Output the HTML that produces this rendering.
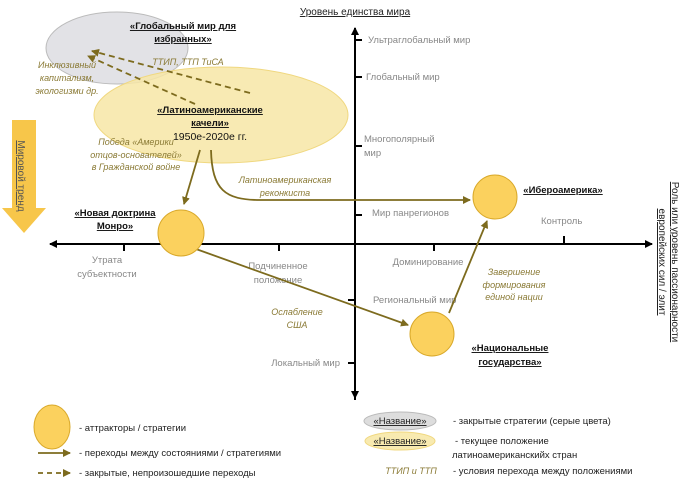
<!DOCTYPE html><html><head><meta charset="utf-8"><style>body{margin:0;background:#fff}svg{display:block;font-family:"Liberation Sans","DejaVu Sans",sans-serif}</style></head><body>
<svg width="686" height="486" viewBox="0 0 686 486" xmlns="http://www.w3.org/2000/svg">
<defs>
<marker id="ab" markerWidth="8" markerHeight="8" refX="7" refY="4" orient="auto" markerUnits="userSpaceOnUse"><path d="M0,0 L8,4 L0,8z" fill="#000"/></marker>
<marker id="ao" markerWidth="8" markerHeight="8" refX="7" refY="4" orient="auto" markerUnits="userSpaceOnUse"><path d="M0,0 L8,4 L0,8z" fill="#7d6b1e"/></marker>
</defs>
<ellipse cx="117" cy="48" rx="71" ry="36" fill="#e2e2e6" stroke="#bbb"/>
<ellipse cx="221" cy="115" rx="127" ry="48" fill="#f7e6a6" fill-opacity="0.85" stroke="#f0d880"/>
<polygon points="12,120 36,120 36,208 46,208 24,233 2,208 12,208" fill="#f7c64a"/>
<text transform="translate(18,176) rotate(90)" font-size="10" fill="#555" text-anchor="middle" text-decoration="underline">Мировой тренд</text>
<!-- axes -->
<line x1="355" y1="400" x2="355" y2="28" stroke="#000" stroke-width="2" marker-end="url(#ab)"/>
<line x1="355" y1="244" x2="355" y2="398" stroke="#000" stroke-width="2" marker-end="url(#ab)"/>
<line x1="355" y1="244" x2="50" y2="244" stroke="#000" stroke-width="2" marker-end="url(#ab)"/>
<line x1="355" y1="244" x2="652" y2="244" stroke="#000" stroke-width="2" marker-end="url(#ab)"/>
<g stroke="#000" stroke-width="2">
<line x1="124" y1="244" x2="124" y2="251"/><line x1="279" y1="244" x2="279" y2="251"/><line x1="434" y1="244" x2="434" y2="251"/><line x1="564" y1="244" x2="564" y2="236"/>
<line x1="355" y1="40" x2="362" y2="40"/><line x1="355" y1="77" x2="362" y2="77"/><line x1="355" y1="146" x2="362" y2="146"/><line x1="355" y1="215" x2="362" y2="215"/>
<line x1="355" y1="300" x2="348" y2="300"/><line x1="355" y1="363" x2="348" y2="363"/>
</g>
<g font-size="9.5" fill="#888">
<text x="368" y="43">Ультраглобальный мир</text>
<text x="366" y="80">Глобальный мир</text>
<text x="364" y="142">Многополярный</text><text x="364" y="156">мир</text>
<text x="372" y="216">Мир панрегионов</text>
<text x="541" y="224">Контроль</text>
<text x="107" y="263" text-anchor="middle">Утрата</text><text x="107" y="277" text-anchor="middle">субъектности</text>
<text x="278" y="269" text-anchor="middle">Подчиненное</text><text x="278" y="283" text-anchor="middle">положение</text>
<text x="428" y="265" text-anchor="middle">Доминирование</text>
<text x="373" y="303">Региональный мир</text>
<text x="340" y="366" text-anchor="end">Локальный  мир</text>
</g>
<text x="355" y="15" font-size="10" fill="#222" text-anchor="middle" text-decoration="underline">Уровень единства мира</text>
<text transform="translate(672,262) rotate(90)" font-size="10" fill="#222" text-anchor="middle" text-decoration="underline">Роль или уровень пассионарности</text>
<text transform="translate(659,262) rotate(90)" font-size="10" fill="#222" text-anchor="middle" text-decoration="underline">европейских сил / элит</text>
<!-- arrows -->
<g stroke="#7d6b1e" stroke-width="1.8" fill="none">
<line x1="250" y1="93" x2="92" y2="51" stroke-dasharray="6,4" marker-end="url(#ao)"/>
<line x1="195" y1="104" x2="88" y2="56" stroke-dasharray="6,4" marker-end="url(#ao)"/>
<line x1="200" y1="150" x2="184" y2="204" marker-end="url(#ao)"/>
<path d="M211,150 C212,190 225,200 260,200 L470,200" marker-end="url(#ao)"/>
<line x1="196" y1="249" x2="408" y2="325" marker-end="url(#ao)"/>
<line x1="449" y1="313" x2="487" y2="221" marker-end="url(#ao)"/>
</g>
<g fill="#fbd15e" stroke="#d9a92a">
<circle cx="181" cy="233" r="23"/><circle cx="495" cy="197" r="22"/><circle cx="432" cy="334" r="22"/>
</g>
<g font-size="9.5" font-weight="bold" fill="#111" text-anchor="middle" text-decoration="underline">
<text x="183" y="29">«Глобальный мир для</text><text x="183" y="42">избранных»</text>
<text x="210" y="113">«Латиноамериканские</text><text x="210" y="126">качели»</text>
<text x="115" y="216">«Новая доктрина</text><text x="115" y="229">Монро»</text>
<text x="563" y="193">«Ибероамерика»</text>
<text x="510" y="351">«Национальные</text><text x="510" y="365">государства»</text>
</g>
<text x="210" y="140" font-size="10.5" fill="#111" text-anchor="middle">1950е-2020е гг.</text>
<g font-size="9" font-style="italic" fill="#8a7a35" text-anchor="middle">
<text x="67" y="68">Инклюзивный</text><text x="67" y="81">капитализм,</text><text x="67" y="94">экологизми др.</text>
<text x="188" y="65">ТТИП, ТТП ТиСА</text>
<text x="136" y="145">Победа «Америки</text><text x="136" y="158">отцов-основателей»</text><text x="136" y="170">в Гражданской войне</text>
<text x="285" y="183">Латиноамериканская</text><text x="285" y="196">реконкиста</text>
<text x="297" y="315">Ослабление</text><text x="297" y="328">США</text>
<text x="514" y="275">Завершение</text><text x="514" y="288">формирования</text><text x="514" y="300">единой нации</text>
</g>
<!-- legend -->
<ellipse cx="52" cy="427" rx="18" ry="22" fill="#fbd15e" stroke="#d9a92a"/>
<line x1="38" y1="453" x2="70" y2="453" stroke="#7d6b1e" stroke-width="1.8" marker-end="url(#ao)"/>
<line x1="38" y1="473" x2="70" y2="473" stroke="#7d6b1e" stroke-width="1.8" stroke-dasharray="5,4" marker-end="url(#ao)"/>
<ellipse cx="400" cy="421" rx="36" ry="9" fill="#ddd" stroke="#bbb"/>
<ellipse cx="400" cy="441" rx="35" ry="9" fill="#f8eab0" stroke="#f0d880"/>
<g font-size="9.5" fill="#222">
<text x="79" y="431">- аттракторы  / стратегии</text>
<text x="79" y="456">- переходы между состояниями / стратегиями</text>
<text x="79" y="476">- закрытые, непроизошедшие переходы</text>
<text x="453" y="424">- закрытые стратегии (серые цвета)</text>
<text x="455" y="444">- текущее положение</text>
<text x="452" y="458">латиноамериканскийх стран</text>
<text x="453" y="474">- условия перехода между положениями</text>
<text x="400" y="424" text-anchor="middle" text-decoration="underline">«Название»</text>
<text x="400" y="444" text-anchor="middle" text-decoration="underline">«Название»</text>
</g>
<text x="411" y="474" font-size="9" font-style="italic" fill="#8a7a35" text-anchor="middle">ТТИП и ТТП</text>
</svg></body></html>
